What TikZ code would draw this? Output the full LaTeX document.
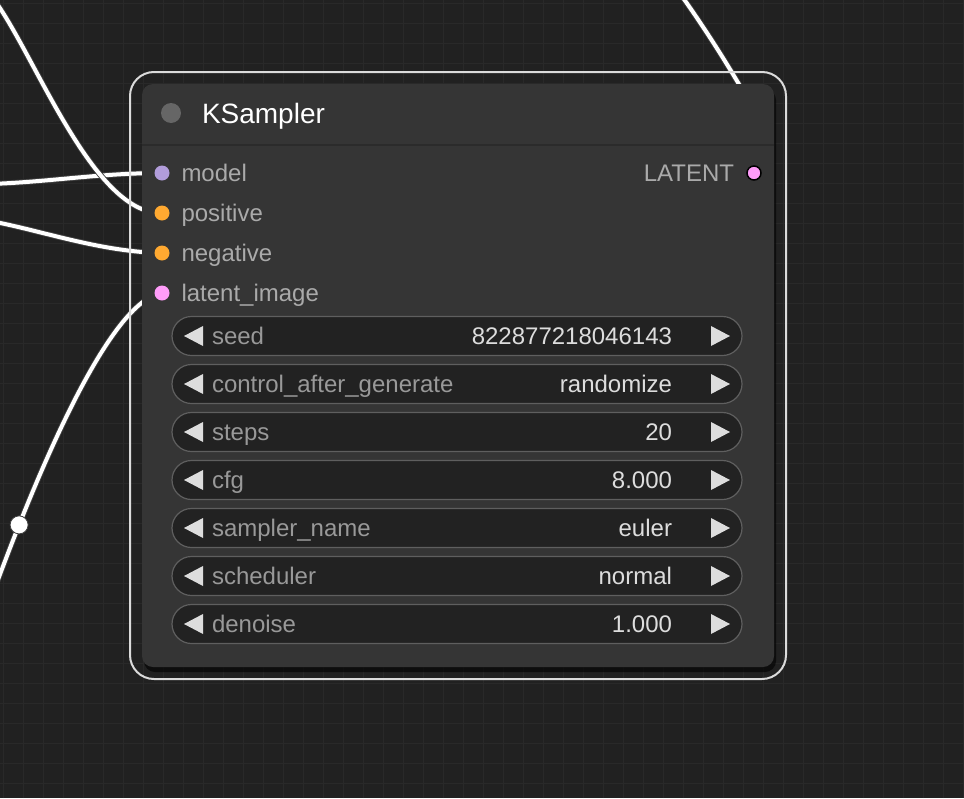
\documentclass[tikz,border=0pt]{standalone}
\usepackage{fontspec}
\setmainfont{Liberation Sans}
\usetikzlibrary{backgrounds, calc, positioning, shadows}
\definecolor{colorbg}{RGB}{33,33,33}
\definecolor{colorgrid}{RGB}{41,41,41}
\definecolor{colorbody}{RGB}{53,53,53}
\definecolor{colorsep}{RGB}{43,43,43}
\definecolor{colordot}{RGB}{102,102,102}
\definecolor{colorwidget}{RGB}{34,34,34}
\definecolor{colorborder}{RGB}{95,95,95}
\definecolor{colorslot}{RGB}{170,170,170}
\definecolor{colorlabel}{RGB}{153,153,153}
\definecolor{colorvalue}{RGB}{221,221,221}
\definecolor{colormodel}{RGB}{178,157,219}
\definecolor{colorcond}{RGB}{255,169,49}
\definecolor{colorlatent}{RGB}{255,156,249}

\begin{document}
\begin{tikzpicture}[x=1pt, y=-1pt,
    every node/.style={font=\fontsize{24}{28}\selectfont, outer sep=0},
    selection/.style={draw=white!86!black, line width=2, rounded corners=24, minimum width=656, minimum height=607},
    nodebody/.style={fill=colorbody, rounded corners=11, minimum width=632, minimum height=583,
        drop shadow={shadow xshift=2pt, shadow yshift=-5pt, opacity=.6, fill=black}},
    slot/.style={circle, minimum size=15, inner sep=0},
    slotlabel/.style={text=colorslot, inner sep=0, text height=17, text depth=0},
    titletext/.style={text=white, inner sep=0, text height=20, text depth=0, font=\fontsize{28}{32}\selectfont},
    widget/.style={draw=colorborder, fill=colorwidget, line width=1.2, rounded corners=19.5,
        minimum width=570, minimum height=39, inner sep=0},
    wlabel/.style={text=colorlabel, inner sep=0, text height=17, text depth=0},
    wvalue/.style={text=colorvalue, inner sep=0, text height=17, text depth=0},
    arrowtri/.style={fill=colorvalue},
    wire/.style={draw=black!75, line width=0.9, double=white, double distance=4},
    linkdot/.style={circle, fill=white, draw=black!75, line width=0.8, minimum size=18, inner sep=0}]

\useasboundingbox (0,0) rectangle (964,798);

\node[selection] (selection) at (458,375.5) {};
\node[nodebody] (ksampler) at (458,375.5) {};
\draw[colorsep, line width=1.5] ([yshift=-61]ksampler.north west) -- ([yshift=-61]ksampler.north east);

\node[circle, fill=colordot, minimum size=20, inner sep=0] (titledot) at (171,113) {};
\node[titletext, right=21pt of titledot] (title) {KSampler};

% inputs and output
\node[slot, fill=colormodel] (model) at (162,173) {};
\node[slot, fill=colorcond, below=25pt of model] (positive) {};
\node[slot, fill=colorcond, below=25pt of positive] (negative) {};
\node[slot, fill=colorlatent, below=25pt of negative] (latent) {};
\node[slotlabel, right=12pt of model] (lmodel) {model};
\node[slotlabel, right=12pt of positive] (lpositive) {positive};
\node[slotlabel, right=12pt of negative] (lnegative) {negative};
\node[slotlabel, right=12pt of latent] (llatent) {latent\_image};
\node[slot, fill=colorlatent, draw=black, line width=1.5, minimum size=14] (latentout) at (754,173) {};
\node[slotlabel, left=13pt of latentout] (llatentout) {LATENT};

% widgets
\node[widget] (seed) at (457,336) {};
\node[widget, below=9pt of seed] (control) {};
\node[widget, below=9pt of control] (steps) {};
\node[widget, below=9pt of steps] (cfg) {};
\node[widget, below=9pt of cfg] (sampler) {};
\node[widget, below=9pt of sampler] (scheduler) {};
\node[widget, below=9pt of scheduler] (denoise) {};
\node[wlabel, right=40pt of seed.west] (lseed) {seed};
\node[wvalue, left=70pt of seed.east] (vseed) {822877218046143};
\node[wlabel, right=40pt of control.west] (lcontrol) {control\_after\_generate};
\node[wvalue, left=70pt of control.east] (vcontrol) {randomize};
\node[wlabel, right=40pt of steps.west] (lsteps) {steps};
\node[wvalue, left=70pt of steps.east] (vsteps) {20};
\node[wlabel, right=40pt of cfg.west] (lcfg) {cfg};
\node[wvalue, left=70pt of cfg.east] (vcfg) {8.000};
\node[wlabel, right=40pt of sampler.west] (lsampler) {sampler\_name};
\node[wvalue, left=70pt of sampler.east] (vsampler) {euler};
\node[wlabel, right=40pt of scheduler.west] (lscheduler) {scheduler};
\node[wvalue, left=70pt of scheduler.east] (vscheduler) {normal};
\node[wlabel, right=40pt of denoise.west] (ldenoise) {denoise};
\node[wvalue, left=70pt of denoise.east] (vdenoise) {1.000};
\foreach \w in {seed,control,steps,cfg,sampler,scheduler,denoise} {
    \fill[arrowtri] ([xshift=12]\w.west) -- ++(19,-10) -- ++(0,20) -- cycle;
    \fill[arrowtri] ([xshift=-12]\w.east) -- ++(-19,-10) -- ++(0,20) -- cycle;
}

% links behind the node
\coordinate (srcmodel) at (-10,184);
\coordinate (srcpositive) at (-12,-8);
\coordinate (srcnegative) at (-10,221);
\coordinate (srclatent) at (-8,596);
\coordinate (srctop) at (676,-12);
\coordinate (dsttop) at (765,130);
\begin{scope}[on background layer]
    \fill[colorbg] (0,0) rectangle (964,798);
    \draw[colorgrid, line width=1, xshift=3pt, yshift=-3pt, step=20pt] (-3,-3) grid (961,795);
    \draw[wire] (srcmodel) .. controls (50,182) and (100,173) .. (model.center);
    \draw[wire] (srcpositive) .. controls (30,40) and (90,215) .. (positive.center);
    \draw[wire] (srcnegative) .. controls (40,230) and (100,252) .. (negative.center);
    \draw[wire] (srclatent) .. controls (38,470) and (110,300) .. (latent.center)
        node[linkdot, pos=0.18] (reroute) {};
    \draw[wire] (srctop) .. controls (705,28) and (735,75) .. (dsttop);
\end{scope}
\end{tikzpicture}
\end{document}
